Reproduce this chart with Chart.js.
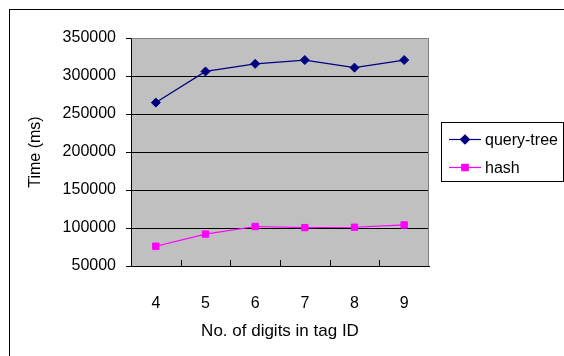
<!DOCTYPE html>
<html>
<head>
<meta charset="utf-8">
<script src="https://cdn.jsdelivr.net/npm/chart.js@4/dist/chart.umd.min.js"></script>
<style>
  html, body { margin: 0; padding: 0; background: #ffffff; }
  #wrap { width: 564px; height: 356px; }
</style>
</head>
<body>
<div id="wrap"><canvas id="c" width="564" height="356"></canvas></div>
<script>
// Tag ID length vs. identification time
const digits = ['4', '5', '6', '7', '8', '9'];
const queryTree = [265000, 306000, 316000, 321000, 311000, 321000];
const hashTimes = [76000, 92000, 102000, 100500, 101000, 104000];
const yTicks = [50000, 100000, 150000, 200000, 250000, 300000, 350000];

const FONT = "'Liberation Sans', Arial, sans-serif";

// Gray plot area, outer frame, inward category tick marks and legend box
const decor = {
  id: 'decor',
  beforeDraw(chart) {
    const { ctx, chartArea: a } = chart;
    ctx.save();
    ctx.fillStyle = '#ffffff';
    ctx.fillRect(0, 0, chart.width, chart.height);
    ctx.strokeStyle = '#000000';
    ctx.lineWidth = 1;
    ctx.strokeRect(9.5, 9.5, 700, 500);
    ctx.fillStyle = '#c0c0c0';
    ctx.fillRect(a.left, a.top, a.right - a.left, a.bottom - a.top);
    ctx.restore();
  },
  beforeDatasetsDraw(chart) {
    const { ctx, chartArea: a, scales } = chart;
    const x = scales.x;
    ctx.save();
    // plot frame (top and right)
    ctx.strokeStyle = '#808080';
    ctx.lineWidth = 1;
    ctx.beginPath();
    ctx.moveTo(Math.round(a.left) + 0.5, Math.round(a.top) + 0.5);
    ctx.lineTo(Math.round(a.right) - 0.5, Math.round(a.top) + 0.5);
    ctx.lineTo(Math.round(a.right) - 0.5, Math.round(a.bottom));
    ctx.stroke();
    // tick marks between categories, pointing into the plot
    ctx.strokeStyle = '#000000';
    ctx.beginPath();
    for (let i = 0; i < digits.length - 1; i++) {
      const px = Math.round((x.getPixelForValue(i) + x.getPixelForValue(i + 1)) / 2) + 0.5;
      ctx.moveTo(px, a.bottom - 6);
      ctx.lineTo(px, a.bottom);
    }
    ctx.stroke();
    ctx.restore();
  },
  afterDraw(chart) {
    const { ctx } = chart;
    const box = { left: 441.5, top: 122.5, right: 563.5, bottom: 181.5 };
    ctx.save();
    ctx.fillStyle = '#ffffff';
    ctx.fillRect(box.left, box.top, box.right - box.left, box.bottom - box.top);
    ctx.strokeStyle = '#000000';
    ctx.lineWidth = 1;
    ctx.strokeRect(box.left, box.top, box.right - box.left, box.bottom - box.top);
    const rows = [139.5, 167.5];
    chart.data.datasets.forEach((ds, i) => {
      const y = rows[i];
      ctx.strokeStyle = ds.borderColor;
      ctx.lineWidth = ds.borderWidth;
      ctx.beginPath();
      ctx.moveTo(449, y);
      ctx.lineTo(481, y);
      ctx.stroke();
      Chart.helpers.drawPoint(ctx, {
        pointStyle: ds.pointStyle,
        radius: ds.pointRadius,
        borderWidth: 1,
        rotation: 0
      }, 465, y);
      ctx.fillStyle = ds.pointBackgroundColor;
      ctx.strokeStyle = ds.pointBorderColor;
      ctx.fill();
      ctx.fillStyle = '#000000';
      ctx.font = '16px ' + FONT;
      ctx.textBaseline = 'middle';
      ctx.textAlign = 'left';
      ctx.fillText(ds.label, 485, y + 1);
    });
    ctx.restore();
  }
};

new Chart(document.getElementById('c'), {
  type: 'line',
  data: {
    labels: digits,
    datasets: [
      {
        label: 'query-tree',
        data: queryTree,
        borderColor: '#000080',
        backgroundColor: '#000080',
        pointBackgroundColor: '#000080',
        pointBorderColor: '#000080',
        pointStyle: 'rectRot',
        pointRadius: 4.5,
        pointBorderWidth: 1,
        borderWidth: 1.2,
        tension: 0
      },
      {
        label: 'hash',
        data: hashTimes,
        borderColor: '#ff00ff',
        backgroundColor: '#ff00ff',
        pointBackgroundColor: '#ff00ff',
        pointBorderColor: '#ff00ff',
        pointStyle: 'rect',
        pointRadius: 4.5,
        pointBorderWidth: 1,
        borderWidth: 1.2,
        tension: 0
      }
    ]
  },
  options: {
    responsive: false,
    animation: false,
    events: [],
    layout: { padding: { left: 0, right: 135, top: 38, bottom: 0 } },
    plugins: {
      legend: { display: false },
      tooltip: { enabled: false }
    },
    scales: {
      x: {
        type: 'category',
        offset: true,
        grid: { display: false },
        border: { display: true, color: '#000000', width: 1 },
        ticks: { color: '#000000', font: { family: FONT, size: 16 }, padding: 20 },
        title: {
          display: true,
          text: 'No. of digits in tag ID',
          color: '#000000',
          font: { family: FONT, size: 17 },
          padding: { top: 0, bottom: 14 }
        },
        afterFit(scale) { scale.height = 90; }
      },
      y: {
        min: 50000,
        max: 350000,
        afterBuildTicks(scale) { scale.ticks = yTicks.map(v => ({ value: v })); },
        grid: {
          color: ctx => (ctx.tick && ctx.tick.value === 350000) ? '#808080' : '#000000',
          tickColor: '#000000',
          tickLength: 5,
          lineWidth: 1
        },
        border: { display: true, color: '#000000', width: 1 },
        ticks: {
          color: '#000000',
          font: { family: FONT, size: 16 },
          padding: 10,
          callback: value => String(value)
        },
        title: {
          display: true,
          text: 'Time (ms)',
          color: '#000000',
          font: { family: FONT, size: 16 },
          padding: { top: 26, bottom: 0 }
        },
        afterFit(scale) { scale.width = 131; }
      }
    }
  },
  plugins: [decor]
});
</script>
</body>
</html>
